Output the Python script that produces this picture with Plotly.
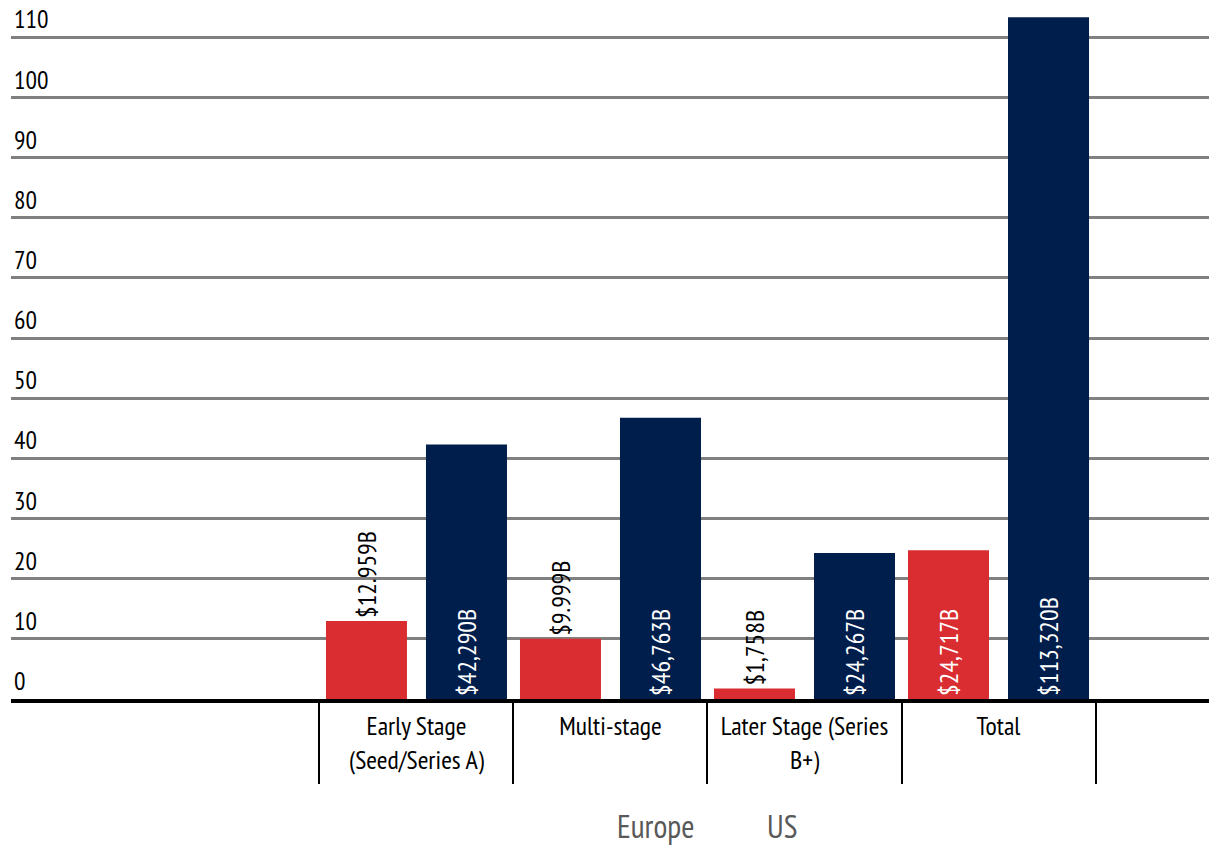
import plotly.graph_objects as go

categories = ["Early Stage (Seed/Series A)", "Multi-stage", "Later Stage (Series B+)", "Total"]
category_ticktext = ["Early Stage<br>(Seed/Series A)", "Multi-stage", "Later Stage (Series<br>B+)", "Total"]
europe_values = [12.959, 9.999, 1.758, 24.717]
us_values = [42.290, 46.763, 24.267, 113.320]
europe_labels = ["$12.959B", "$9.999B", "$1,758B", "$24,717B"]
us_labels = ["$42,290B", "$46,763B", "$24,267B", "$113,320B"]
europe_textpos = ["outside", "outside", "outside", "inside"]
us_textpos = ["inside", "inside", "inside", "inside"]
y_ticks = [0, 10, 20, 30, 40, 50, 60, 70, 80, 90, 100, 110]
series_names = ["Europe", "US"]

RED = "#D92D32"
NAVY = "#001E4B"
FONT = "PT Sans Narrow, Roboto Condensed, sans-serif"
LABEL_SIZE = 26

fig = go.Figure()
fig.add_trace(go.Bar(
    name=series_names[0], x=categories, y=europe_values,
    marker=dict(color=RED, line=dict(width=0)),
    width=0.4175, offset=-0.4665,
    text=europe_labels, textposition=europe_textpos, textangle=-90,
    insidetextanchor="start", constraintext="none",
    insidetextfont=dict(color="white", size=LABEL_SIZE, family=FONT),
    outsidetextfont=dict(color="black", size=LABEL_SIZE, family=FONT),
    cliponaxis=False, showlegend=False,
))
fig.add_trace(go.Bar(
    name=series_names[1], x=categories, y=us_values,
    marker=dict(color=NAVY, line=dict(width=0)),
    width=0.4175, offset=0.049,
    text=us_labels, textposition=us_textpos, textangle=-90,
    insidetextanchor="start", constraintext="none",
    insidetextfont=dict(color="white", size=LABEL_SIZE, family=FONT),
    outsidetextfont=dict(color="black", size=LABEL_SIZE, family=FONT),
    cliponaxis=False, showlegend=False,
))
fig.add_trace(go.Bar(x=categories, y=[0, 0, 0, 0], xaxis="x2", showlegend=False,
                     marker=dict(opacity=0), hoverinfo="skip"))

xrange = [-2.09, 4.085]
fig.update_layout(
    barmode="overlay",
    width=1209, height=848,
    margin=dict(l=11, r=0, t=0, b=148.5),
    paper_bgcolor="white", plot_bgcolor="white",
    font=dict(family=FONT, size=LABEL_SIZE, color="black"),
    xaxis=dict(
        type="category", categoryorder="array", categoryarray=categories,
        range=xrange, tickmode="array", tickvals=categories, ticktext=category_ticktext,
        ticks="", showgrid=False, showline=True, linecolor="black", linewidth=4,
        tickfont=dict(size=LABEL_SIZE, color="black", family=FONT), zeroline=False,
        ticklabelstandoff=1,
    ),
    xaxis2=dict(
        type="category", categoryorder="array", categoryarray=categories,
        overlaying="x", side="bottom", range=xrange, matches="x",
        ticks="outside", tickson="boundaries", ticklen=84, tickwidth=2, tickcolor="black",
        showticklabels=False, showgrid=False, showline=False, zeroline=False,
    ),
    yaxis=dict(
        range=[0, 116.2], tickmode="array", tickvals=y_ticks,
        showgrid=True, gridcolor="#808080", gridwidth=2.5,
        zeroline=False, showline=False, ticks="",
        ticklabelposition="inside top",
        tickfont=dict(size=25.5, color="black", family=FONT),
    ),
    showlegend=False,
)

legend_x = [0.538, 0.6436]
for name, xp in zip(series_names, legend_x):
    fig.add_annotation(text=name, x=xp, y=-0.181, xref="paper", yref="paper",
                       showarrow=False, xanchor="center", yanchor="middle", borderpad=0,
                       font=dict(size=32, color="#595959", family=FONT))

fig.write_html("out.html")
